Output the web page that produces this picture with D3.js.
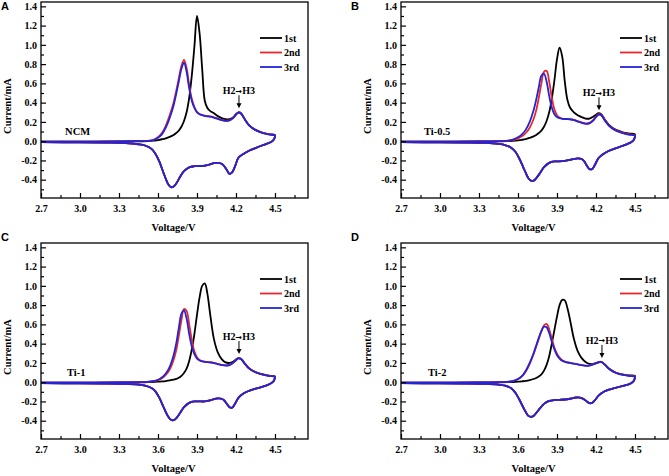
<!DOCTYPE html>
<html><head><meta charset="utf-8">
<script src="https://cdn.jsdelivr.net/npm/d3@7"></script>
<style>body{margin:0;background:#fff}svg{display:block}</style>
</head><body><svg id="c" width="669" height="476"></svg>
<script>
// ---------------- DATA ----------------
const xTicks = [2.7, 3.0, 3.3, 3.6, 3.9, 4.2, 4.5];
const xTickLabels = ["2.7", "3.0", "3.3", "3.6", "3.9", "4.2", "4.5"];
const xMinor = [2.85, 3.15, 3.45, 3.75, 4.05, 4.35, 4.65];
const yTicks = [-0.4, -0.2, 0.0, 0.2, 0.4, 0.6, 0.8, 1.0, 1.2, 1.4];
const yTickLabels = ["-0.4", "-0.2", "0.0", "0.2", "0.4", "0.6", "0.8", "1.0", "1.2", "1.4"];
const yMinor = [-0.5, -0.3, -0.1, 0.1, 0.3, 0.5, 0.7, 0.9, 1.1, 1.3];
const cycleNames = ["1st", "2nd", "3rd"];
const panelLetters = ["A", "B", "C", "D"];
const sampleNames = ["NCM", "Ti-0.5", "Ti-1", "Ti-2"];
const annotationParts = ["H2", "\u2192", "H3"];

// anodic scan voltages (V)
const vAn = [2.70,3.00,3.30,3.45,3.52,3.56,3.60,3.63,3.66,3.69,3.72,3.74,3.76,3.78,3.80,3.82,3.84,3.86,3.88,3.90,3.92,3.94,3.96,3.98,4.00,4.03,4.06,4.09,4.12,4.15,4.18,4.20,4.22,4.24,4.27,4.30,4.35,4.40,4.45,4.50];
// cathodic scan voltages (V)
const vCat = [2.70,3.00,3.20,3.35,3.45,3.50,3.55,3.58,3.61,3.64,3.66,3.68,3.70,3.72,3.74,3.77,3.80,3.84,3.88,3.92,3.96,4.00,4.03,4.06,4.09,4.11,4.13,4.15,4.17,4.19,4.22,4.26,4.30,4.35,4.40,4.44,4.47,4.49,4.50];

// Panel A (NCM) currents (mA)
const anA1 = [-0.005,-0.004,-0.003,-0.001,0.002,0.005,0.012,0.02,0.03,0.045,0.065,0.085,0.11,0.15,0.21,0.30,0.45,0.68,0.98,1.30,1.12,0.75,0.42,0.345,0.315,0.29,0.26,0.24,0.228,0.228,0.25,0.28,0.30,0.287,0.222,0.167,0.117,0.09,0.074,0.064];
const anA2 = [-0.005,-0.004,-0.003,0.0,0.004,0.01,0.042,0.085,0.16,0.27,0.40,0.52,0.65,0.78,0.845,0.76,0.58,0.44,0.355,0.305,0.283,0.272,0.264,0.26,0.257,0.247,0.234,0.22,0.212,0.217,0.245,0.277,0.299,0.287,0.222,0.167,0.117,0.089,0.072,0.062];
const anA3 = [-0.005,-0.004,-0.003,0.0,0.003,0.008,0.035,0.07,0.14,0.24,0.37,0.49,0.62,0.75,0.815,0.72,0.55,0.42,0.345,0.30,0.28,0.27,0.262,0.258,0.255,0.245,0.232,0.218,0.21,0.215,0.243,0.275,0.297,0.285,0.22,0.165,0.115,0.087,0.07,0.06];
const catA = [-0.010,-0.012,-0.015,-0.02,-0.032,-0.045,-0.08,-0.13,-0.21,-0.32,-0.39,-0.45,-0.478,-0.47,-0.44,-0.37,-0.31,-0.272,-0.26,-0.258,-0.255,-0.24,-0.228,-0.225,-0.235,-0.26,-0.30,-0.34,-0.325,-0.27,-0.17,-0.13,-0.10,-0.072,-0.045,-0.025,-0.008,0.015,0.05];

// Panel B (Ti-0.5)
const anB1 = [-0.005,-0.004,-0.003,-0.002,0.0,0.003,0.008,0.014,0.022,0.035,0.05,0.065,0.085,0.11,0.15,0.21,0.30,0.44,0.63,0.85,0.97,0.88,0.62,0.43,0.35,0.30,0.27,0.25,0.235,0.235,0.255,0.275,0.29,0.28,0.22,0.17,0.12,0.095,0.08,0.07];
const anB2 = [-0.005,-0.004,-0.003,-0.001,0.003,0.01,0.03,0.05,0.085,0.14,0.23,0.32,0.45,0.60,0.72,0.73,0.62,0.45,0.33,0.27,0.245,0.235,0.232,0.232,0.23,0.222,0.208,0.195,0.185,0.19,0.22,0.255,0.28,0.272,0.215,0.165,0.115,0.09,0.072,0.062];
const anB3 = [-0.005,-0.004,-0.003,0.0,0.006,0.016,0.04,0.07,0.12,0.20,0.32,0.43,0.56,0.68,0.70,0.62,0.47,0.35,0.28,0.25,0.238,0.232,0.23,0.23,0.226,0.218,0.204,0.19,0.18,0.185,0.215,0.25,0.275,0.268,0.21,0.16,0.11,0.085,0.068,0.058];
const catB = [-0.010,-0.012,-0.014,-0.018,-0.028,-0.04,-0.07,-0.11,-0.18,-0.27,-0.33,-0.385,-0.41,-0.41,-0.385,-0.33,-0.27,-0.225,-0.21,-0.21,-0.205,-0.195,-0.185,-0.178,-0.185,-0.21,-0.255,-0.29,-0.29,-0.25,-0.175,-0.13,-0.10,-0.075,-0.05,-0.03,-0.012,0.012,0.05];

// Panel C (Ti-1)
const anC1 = [-0.005,-0.004,-0.003,-0.002,0.0,0.002,0.005,0.008,0.012,0.018,0.026,0.034,0.045,0.065,0.095,0.14,0.22,0.34,0.50,0.70,0.88,1.0,1.025,0.92,0.72,0.45,0.31,0.24,0.205,0.2,0.215,0.235,0.25,0.24,0.19,0.145,0.105,0.083,0.068,0.06];
const anC2 = [-0.005,-0.004,-0.003,-0.001,0.002,0.008,0.02,0.04,0.075,0.13,0.23,0.33,0.48,0.64,0.76,0.74,0.60,0.44,0.32,0.26,0.23,0.218,0.212,0.21,0.207,0.2,0.19,0.18,0.175,0.18,0.205,0.23,0.25,0.24,0.19,0.145,0.105,0.082,0.067,0.058];
const anC3 = [-0.005,-0.004,-0.003,0.0,0.003,0.01,0.025,0.048,0.09,0.16,0.28,0.40,0.56,0.71,0.745,0.66,0.50,0.37,0.29,0.245,0.225,0.215,0.21,0.208,0.205,0.198,0.188,0.178,0.173,0.178,0.203,0.228,0.248,0.238,0.188,0.143,0.103,0.08,0.065,0.056];
const catC = [-0.010,-0.012,-0.014,-0.018,-0.026,-0.036,-0.06,-0.095,-0.16,-0.25,-0.31,-0.36,-0.39,-0.395,-0.375,-0.32,-0.26,-0.215,-0.2,-0.2,-0.2,-0.19,-0.175,-0.168,-0.172,-0.19,-0.225,-0.26,-0.265,-0.23,-0.16,-0.115,-0.09,-0.068,-0.048,-0.03,-0.012,0.012,0.05];

// Panel D (Ti-2)
const anD1 = [-0.005,-0.004,-0.003,-0.002,0.0,0.002,0.005,0.009,0.014,0.022,0.033,0.043,0.058,0.08,0.12,0.18,0.27,0.40,0.54,0.68,0.80,0.855,0.85,0.77,0.65,0.45,0.32,0.25,0.21,0.19,0.19,0.198,0.205,0.21,0.18,0.14,0.10,0.08,0.07,0.065];
const anD2 = [-0.005,-0.004,-0.003,-0.001,0.003,0.01,0.03,0.06,0.11,0.19,0.29,0.37,0.45,0.53,0.59,0.605,0.55,0.45,0.36,0.295,0.255,0.228,0.215,0.207,0.2,0.193,0.186,0.178,0.172,0.174,0.186,0.198,0.208,0.212,0.182,0.142,0.10,0.08,0.068,0.06];
const anD3 = [-0.005,-0.004,-0.003,0.0,0.004,0.012,0.033,0.062,0.12,0.20,0.30,0.38,0.46,0.53,0.575,0.57,0.51,0.42,0.34,0.28,0.245,0.222,0.212,0.204,0.2,0.192,0.185,0.176,0.17,0.172,0.184,0.196,0.206,0.21,0.18,0.14,0.098,0.078,0.066,0.058];
const catD = [-0.010,-0.012,-0.014,-0.018,-0.026,-0.036,-0.065,-0.11,-0.18,-0.26,-0.31,-0.35,-0.36,-0.35,-0.32,-0.27,-0.225,-0.195,-0.185,-0.183,-0.18,-0.172,-0.163,-0.158,-0.165,-0.18,-0.2,-0.218,-0.215,-0.19,-0.14,-0.10,-0.078,-0.058,-0.04,-0.027,-0.012,0.012,0.05];

// H2->H3 annotation: voltage of arrow and current of the peak it points to
const annV = [4.223, 4.223, 4.223, 4.246];
const annI = [0.30, 0.28, 0.25, 0.21];
// sample label position (V, mA)
const labelV = [2.885, 2.877, 2.90, 2.908];
const labelI = [0.062, 0.062, 0.06, 0.06];

// ---------------- LAYOUT / STYLE ----------------
const colors = ["#000000", "#e8262b", "#2323d8"];
const serif = "'Liberation Serif','Times New Roman',serif";
const sans = "'Liberation Sans',Arial,sans-serif";
const colX = [41, 401], rowY = [2, 243];
const PW = 267, PH = 196;
const xDomain = [2.7, 4.754], yDomain = [-0.59, 1.445];

const panels = [
  {an: [anA1, anA2, anA3], cat: [catA, catA, catA]},
  {an: [anB1, anB2, anB3], cat: [catB, catB, catB]},
  {an: [anC1, anC2, anC3], cat: [catC, catC, catC]},
  {an: [anD1, anD2, anD3], cat: [catD, catD, catD]}
];

const svg = d3.select("#c");
svg.append("rect").attr("width", 669).attr("height", 476).attr("fill", "#fff");

panels.forEach((p, i) => {
  const x0 = colX[i % 2], y0 = rowY[Math.floor(i / 2)];
  const x = d3.scaleLinear().domain(xDomain).range([x0, x0 + PW]);
  const y = d3.scaleLinear().domain(yDomain).range([y0 + PH, y0]);
  const g = svg.append("g");

  const cid = "clip" + i;
  svg.append("clipPath").attr("id", cid).append("rect")
    .attr("x", x0).attr("y", y0).attr("width", PW).attr("height", PH);

  // curves
  const line = d3.line().x(d => x(d[0])).y(d => y(d[1])).curve(d3.curveCatmullRom.alpha(0.5));
  const cg = g.append("g").attr("clip-path", `url(#${cid})`);
  for (let c = 0; c < 3; c++) {
    const pts = vAn.map((v, k) => [v, p.an[c][k]]);
    const back = vCat.map((v, k) => [v, p.cat[c][k]]).reverse();
    cg.append("path").attr("d", line(pts.concat(back)))
      .attr("fill", "none").attr("stroke", colors[c]).attr("stroke-width", 1.8)
      .attr("stroke-linejoin", "round");
  }

  // axes: major & minor ticks inward
  const xa = g.append("g").attr("transform", `translate(0,${y0 + PH})`)
    .call(d3.axisBottom(x).tickValues(xTicks).tickSize(-5).tickPadding(7)
      .tickFormat((d, k) => xTickLabels[k]));
  const xm = g.append("g").attr("transform", `translate(0,${y0 + PH})`)
    .call(d3.axisBottom(x).tickValues(xMinor).tickSize(-3).tickFormat(""));
  const ya = g.append("g").attr("transform", `translate(${x0},0)`)
    .call(d3.axisLeft(y).tickValues(yTicks).tickSize(-5).tickPadding(4)
      .tickFormat((d, k) => yTickLabels[k]));
  const ym = g.append("g").attr("transform", `translate(${x0},0)`)
    .call(d3.axisLeft(y).tickValues(yMinor).tickSize(-3).tickFormat(""));
  [xa, xm, ya, ym].forEach(a => {
    a.select(".domain").remove();
    a.selectAll("line").attr("stroke", "#000").attr("stroke-width", 1.2);
    a.selectAll("text").attr("font-family", serif).attr("font-weight", "bold")
      .attr("font-size", 10).attr("fill", "#000");
  });

  // frame
  g.append("rect").attr("x", x0).attr("y", y0).attr("width", PW).attr("height", PH)
    .attr("fill", "none").attr("stroke", "#000").attr("stroke-width", 1.3);

  // axis titles
  g.append("text").attr("x", x0 + PW / 2 - 1).attr("y", y0 + PH + 33)
    .attr("text-anchor", "middle").attr("font-family", serif).attr("font-weight", "bold")
    .attr("font-size", 10.5).text("Voltage/V");
  g.append("text").attr("transform", `translate(${x0 - 30},${y0 + PH / 2 + 6}) rotate(-90)`)
    .attr("text-anchor", "middle").attr("font-family", serif).attr("font-weight", "bold")
    .attr("font-size", 10.5).text("Current/mA");

  // panel letter
  g.append("text").attr("x", i % 2 ? 351 : 1).attr("y", i < 2 ? 10 : 241)
    .attr("font-family", sans).attr("font-weight", "bold").attr("font-size", 11)
    .text(panelLetters[i]);

  // legend
  cycleNames.forEach((nm, c) => {
    const ly = y0 + 36 + c * 14.5;
    g.append("line").attr("x1", x0 + 219).attr("x2", x0 + 241).attr("y1", ly).attr("y2", ly)
      .attr("stroke", colors[c]).attr("stroke-width", 1.8);
    g.append("text").attr("x", x0 + 243).attr("y", ly + 3.5)
      .attr("font-family", serif).attr("font-weight", "bold").attr("font-size", 10).text(nm);
  });

  // sample label
  g.append("text").attr("x", x(labelV[i])).attr("y", y(labelI[i]))
    .attr("font-family", serif).attr("font-weight", "bold").attr("font-size", 10.5)
    .text(sampleNames[i]);

  // H2->H3 annotation
  const ax = x(annV[i]), tip = y(annI[i]) - 4, tail = tip - 13;
  g.append("line").attr("x1", ax).attr("x2", ax).attr("y1", tail).attr("y2", tip - 4)
    .attr("stroke", "#000").attr("stroke-width", 1);
  g.append("path").attr("d", `M${ax - 2.5},${tip - 5}L${ax + 2.5},${tip - 5}L${ax},${tip}Z`).attr("fill", "#000");
  const at = g.append("text").attr("x", ax).attr("y", tail - 1).attr("text-anchor", "middle")
    .attr("font-family", serif).attr("font-weight", "bold").attr("font-size", 10);
  at.append("tspan").text(annotationParts[0]);
  at.append("tspan").attr("font-family", "'DejaVu Sans',sans-serif").attr("font-size", 8)
    .attr("dy", -0.5).text(annotationParts[1]);
  at.append("tspan").attr("dy", 0.5).text(annotationParts[2]);
});
</script></body></html>
